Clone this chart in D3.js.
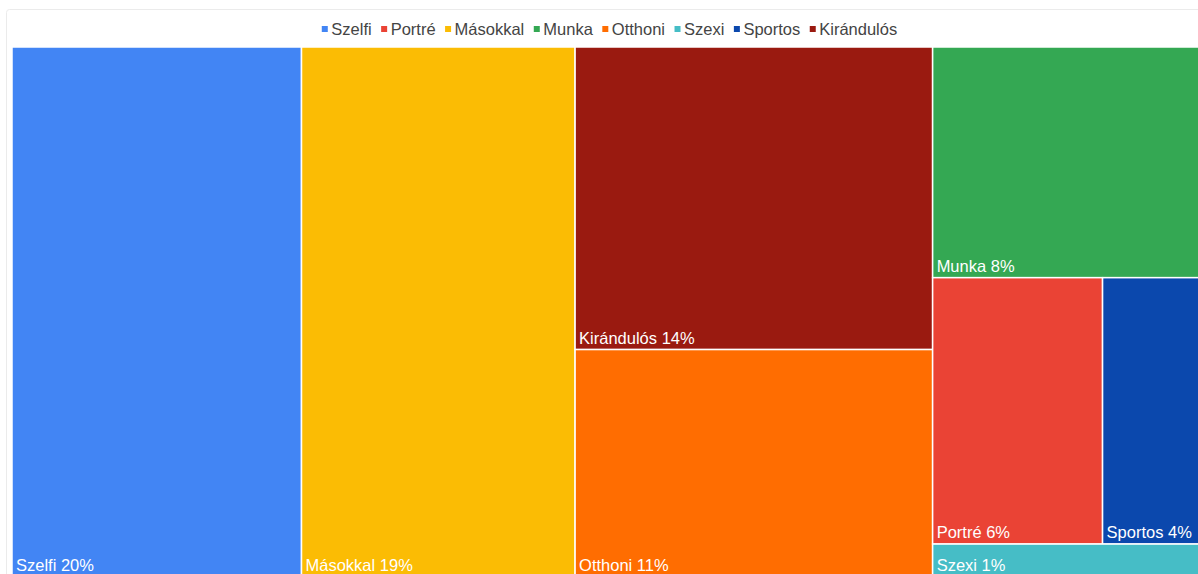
<!DOCTYPE html>
<html>
<head>
<meta charset="utf-8">
<script src="https://cdn.jsdelivr.net/npm/d3@7"></script>
<style>
  body { margin: 0; background: #fff; overflow: hidden; }
  svg { display: block; font-family: Arial, "Liberation Sans", sans-serif; }
  .legend text { fill: #444; font-size: 16.5px; }
  .cell-label { fill: #fff; font-size: 16.5px; }
</style>
</head>
<body>
<div id="chart"></div>
<script>
// Treemap: photo types (Hungarian labels), value = percent shown in the label

const categories = ["Szelfi", "Másokkal", "Kirándulós", "Otthoni", "Munka", "Portré", "Sportos", "Szexi"];
const values = [20, 18.9, 14.1, 10.6, 8.4, 5.9, 3.8, 1.2];

// legend order and colours
const legendOrder = ["Szelfi", "Portré", "Másokkal", "Munka", "Otthoni", "Szexi", "Sportos", "Kirándulós"];
const palette = ["#4285F4", "#EA4335", "#FBBC04", "#34A853", "#FF6D01", "#46BDC6", "#0B48AD", "#9A1A10"];

// how many cells go in each strip of the layout
const rowSizes = [1, 1, 2, 1, 2, 1];

const WIDTH = 1198;
const HEIGHT = 574;
const plot = { left: 12, top: 47, width: 1200, height: 530 };

const color = d3.scaleOrdinal().domain(legendOrder).range(palette);

const svg = d3.select("#chart")
  .append("svg")
  .attr("width", WIDTH)
  .attr("height", HEIGHT);

// card border
svg.append("rect")
  .attr("x", 6.5)
  .attr("y", 9.5)
  .attr("width", 1210)
  .attr("height", 620)
  .attr("rx", 3)
  .attr("fill", "#fff")
  .attr("stroke", "#ebebeb");

// strip tiling, orientation picked from the remaining rectangle
function stripTile(parent, x0, y0, x1, y1) {
  const nodes = parent.children;
  let value = parent.value;
  let i = 0;
  for (const k of rowSizes) {
    const kids = nodes.slice(i, i + k);
    if (!kids.length) break;
    const row = { value: d3.sum(kids, (d) => d.value), children: kids };
    const dx = x1 - x0, dy = y1 - y0;
    if (dx < dy) {
      d3.treemapDice(row, x0, y0, x1, (y0 += (dy * row.value) / value));
    } else {
      d3.treemapSlice(row, x0, y0, (x0 += (dx * row.value) / value), y1);
    }
    value -= row.value;
    i += k;
  }
}

const data = categories.map((name, i) => ({ name, value: values[i] }));
const root = d3.hierarchy({ children: data }).sum((d) => d.value || 0);

d3.treemap()
  .tile(stripTile)
  .size([plot.width, plot.height])(root);

const g = svg.append("g")
  .attr("transform", `translate(${plot.left},${plot.top})`);

const cell = g.selectAll("g.cell")
  .data(root.leaves())
  .join("g")
  .attr("class", "cell");

cell.append("rect")
  .attr("x", (d) => d.x0)
  .attr("y", (d) => d.y0)
  .attr("width", (d) => d.x1 - d.x0)
  .attr("height", (d) => d.y1 - d.y0)
  .attr("fill", (d) => color(d.data.name))
  .attr("stroke", "#fff")
  .attr("stroke-width", 1.5);

cell.append("text")
  .attr("class", "cell-label")
  .attr("x", (d) => d.x0 + 4)
  .attr("y", (d) => d.y1 - 6)
  .text((d) => `${d.data.name} ${d3.format(".0f")(d.data.value)}%`);

// ---- Legend (centred over the card) ----
const legend = svg.append("g").attr("class", "legend");
const items = legend.selectAll("g")
  .data(legendOrder)
  .join("g");

items.append("rect")
  .attr("width", 6)
  .attr("height", 6)
  .attr("y", 26)
  .attr("fill", (d) => color(d));

items.append("text")
  .attr("x", 9.5)
  .attr("y", 35)
  .text((d) => d);

let cursor = 0;
items.each(function () {
  const w = d3.select(this).select("text").node().getComputedTextLength();
  d3.select(this).attr("transform", `translate(${cursor},0)`);
  cursor += 9.5 + w + 9.5;
});
const legendW = cursor - 9.5;
legend.attr("transform", `translate(${609.5 - legendW / 2},0)`);
</script>
</body>
</html>
